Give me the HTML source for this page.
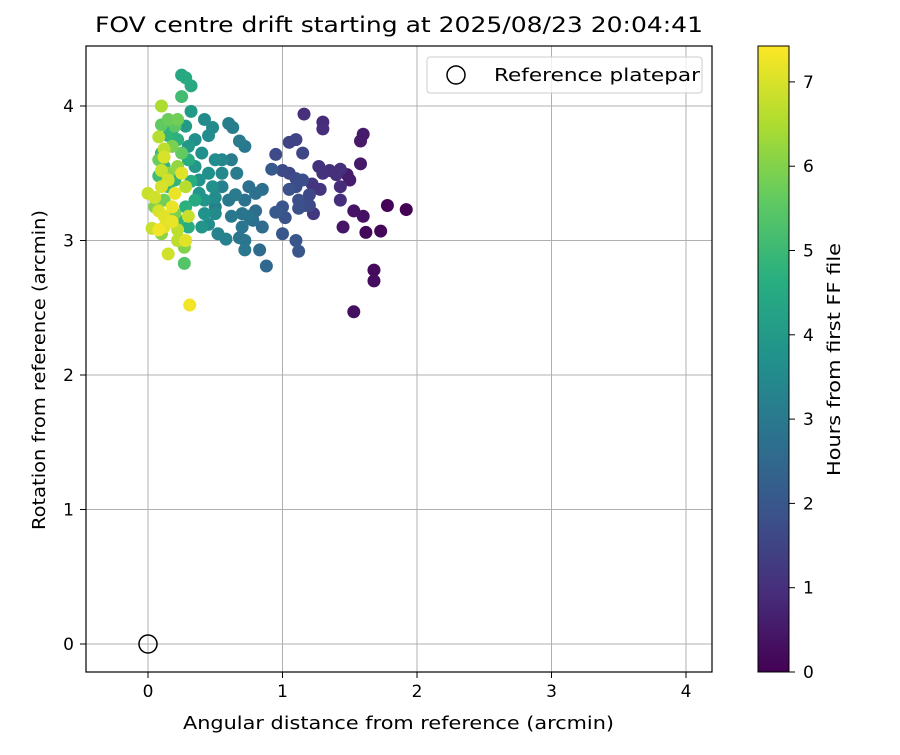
<!DOCTYPE html>
<html><head><meta charset="utf-8"><style>
html,body{margin:0;padding:0;background:#fff}
svg text{font-family:"DejaVu Sans","Liberation Sans",sans-serif;fill:#000}
</style></head><body>
<svg id="chart" width="900" height="750" viewBox="0 0 900 750" xmlns="http://www.w3.org/2000/svg">
<defs>
<linearGradient id="vir" x1="0" y1="1" x2="0" y2="0">
<stop offset="0" stop-color="#440154"/><stop offset="0.125" stop-color="#472d7b"/><stop offset="0.25" stop-color="#3b528b"/><stop offset="0.375" stop-color="#2c728e"/><stop offset="0.5" stop-color="#21918c"/><stop offset="0.625" stop-color="#28ae80"/><stop offset="0.75" stop-color="#5ec962"/><stop offset="0.875" stop-color="#addc30"/><stop offset="1" stop-color="#fde725"/>
</linearGradient>
<clipPath id="clip"><rect x="86" y="46" width="626" height="626"/></clipPath>
</defs>
<rect x="0" y="0" width="900" height="750" fill="#fff"/>
<text x="95" y="32" font-size="21" textLength="608" lengthAdjust="spacingAndGlyphs">FOV centre drift starting at 2025/08/23 20:04:41</text>
<g id="grid"></g>
<g id="points" clip-path="url(#clip)"></g>
<rect x="86" y="46" width="626" height="626" fill="none" stroke="#000" stroke-width="1.2"/>
<g id="ticks"></g>
<text x="183" y="729" font-size="18" textLength="431" lengthAdjust="spacingAndGlyphs">Angular distance from reference (arcmin)</text>
<text x="0" y="0" font-size="18" textLength="320" lengthAdjust="spacingAndGlyphs" transform="translate(45,530) rotate(-90)">Rotation from reference (arcmin)</text>
<g>
<rect x="427" y="57" width="275" height="36" rx="3" fill="#fff" fill-opacity="0.8" stroke="#ccc"/>
<circle cx="456" cy="75" r="9" fill="none" stroke="#000" stroke-width="1.5"/>
<text x="494" y="81" font-size="18" textLength="206" lengthAdjust="spacingAndGlyphs">Reference platepar</text>
</g>
<rect x="758" y="46" width="31" height="626" fill="url(#vir)" stroke="#000" stroke-width="1"/>
<g id="cbticks"></g>
<text x="0" y="0" font-size="18" textLength="233" lengthAdjust="spacingAndGlyphs" transform="translate(840,476) rotate(-90)">Hours from first FF file</text>
</svg>
<script>
const xTicks=[0,1,2,3,4];
const yTicks=[0,1,2,3,4];
const cTicks=[0,1,2,3,4,5,6,7];
const xs=[1.92,1.78,1.73,1.62,1.68,1.68,1.53,1.60,1.53,1.45,1.58,1.60,1.58,1.48,1.50,
1.16,1.30,1.30,1.43,1.35,1.27,1.28,1.22,1.43,1.43,1.23,1.40,1.30,
1.05,1.10,0.95,1.15,1.05,1.00,1.10,1.15,1.20,1.12,1.05,1.02,1.12,1.00,1.10,1.12,0.95,0.92,1.00,1.17,1.10,1.20,
0.88,0.83,0.85,0.80,0.85,0.75,0.72,0.70,0.72,0.72,0.62,0.60,0.65,0.66,0.62,0.60,0.63,0.72,0.68,0.55,0.50,0.58,0.68,0.52,0.78,0.80,0.70,0.75,
0.48,0.42,0.45,0.35,0.40,0.50,0.38,0.45,0.55,0.50,0.45,0.42,0.40,0.35,0.30,0.55,0.48,0.50,0.32,0.28,0.38,0.42,
0.25,0.28,0.32,0.25,0.27,0.18,0.22,0.15,0.30,0.25,0.20,0.12,0.10,0.28,0.30,0.22,0.15,0.35,0.32,0.08,
0.20,0.10,0.15,0.22,0.18,0.25,0.08,0.12,0.20,0.05,0.10,0.25,0.27,0.15,0.22,
0.10,0.08,0.12,0.10,0.15,0.12,0.25,0.28,0.20,0.00,0.05,0.08,0.12,0.18,0.22,0.08,0.03,0.15,0.28,0.30,0.31,0.18,0.10,0.12,0.22];
const ys=[3.23,3.26,3.07,3.06,2.78,2.70,2.47,3.18,3.22,3.10,3.57,3.79,3.74,3.49,3.45,
3.94,3.88,3.83,3.53,3.52,3.55,3.38,3.42,3.40,3.30,3.20,3.49,3.50,
3.73,3.75,3.64,3.65,3.50,3.52,3.46,3.45,3.34,3.30,3.38,3.17,3.24,3.25,3.00,2.92,3.21,3.53,3.05,3.26,3.40,3.26,
2.81,2.93,3.10,3.22,3.38,3.40,3.30,3.20,3.00,2.93,3.18,3.30,3.34,3.50,3.60,3.87,3.84,3.70,3.74,3.40,3.25,3.01,3.02,3.05,3.15,3.35,3.10,3.18,
3.84,3.90,3.78,3.75,3.65,3.60,3.45,3.50,3.60,3.20,3.12,3.30,3.10,3.55,3.70,3.50,3.40,3.32,3.96,3.85,3.35,3.20,
4.23,4.21,4.15,4.07,2.83,3.82,3.75,3.78,3.60,3.50,3.45,3.55,3.65,3.25,3.10,3.15,3.40,3.30,3.44,3.48,
3.85,3.86,3.90,3.90,3.70,3.65,3.60,3.30,3.20,3.25,3.05,3.00,2.95,3.50,3.55,
4.00,3.77,3.68,3.52,3.45,3.62,3.50,3.40,3.35,3.35,3.32,3.22,3.18,3.14,3.08,3.08,3.09,2.90,3.00,3.18,2.52,3.25,3.40,3.10,3.00];
const hours=[0.0,0.05,0.1,0.15,0.2,0.25,0.3,0.35,0.4,0.45,0.5,0.55,0.5,0.6,0.6,
1.0,0.9,0.95,1.0,1.0,1.05,1.1,1.1,0.9,0.95,1.2,1.0,1.05,
1.5,1.5,1.7,1.55,1.6,1.65,1.7,1.75,1.6,1.8,1.85,1.9,1.8,1.95,2.0,2.0,2.05,2.1,2.0,1.7,1.75,1.65,
2.5,2.55,2.6,2.65,2.7,2.75,2.8,2.85,2.9,2.95,3.0,3.0,3.05,3.1,3.1,3.15,3.15,3.0,3.05,3.2,3.25,3.2,2.9,3.3,2.7,2.75,2.9,2.85,
3.5,3.55,3.6,3.65,3.7,3.6,3.75,3.7,3.4,3.5,3.6,3.8,3.85,3.9,3.95,3.45,3.7,3.6,4.0,4.0,3.8,3.75,
4.4,4.5,4.45,5.1,5.4,4.6,4.7,4.8,4.6,4.7,4.8,4.9,5.0,4.7,4.6,4.8,5.0,4.5,4.6,5.1,
5.5,5.6,5.7,5.8,5.9,5.6,5.7,5.8,5.9,6.0,6.1,6.2,6.0,6.1,6.2,
6.5,6.6,6.7,6.8,6.9,7.0,7.1,6.6,7.2,6.8,6.9,7.0,7.1,7.2,6.7,7.3,6.8,6.9,7.1,6.8,7.3,7.2,7.0,7.1,6.7];
const X0=148,XS=134.5,Y0=644,YS=134.5,CB0=672,CS=84.3,CMAX=7.43;
const sx=v=>X0+v*XS, sy=v=>Y0-v*YS, sc=v=>CB0-v*CS;
const VIR=[[68,1,84],[71,45,123],[59,82,139],[44,114,142],[33,145,140],[40,174,128],[94,201,98],[173,220,48],[253,231,37]];
function viridis(t){t=Math.max(0,Math.min(1,t));const p=t*8,i=Math.min(7,Math.floor(p)),f=p-i;const a=VIR[i],b=VIR[i+1];
return 'rgb('+a.map((c,k)=>Math.round(c+(b[k]-c)*f)).join(',')+')';}
const NS='http://www.w3.org/2000/svg';
function mk(tag,attrs,parent){const e=document.createElementNS(NS,tag);for(const k in attrs)e.setAttribute(k,attrs[k]);parent.appendChild(e);return e;}
const grid=document.getElementById('grid'),ticks=document.getElementById('ticks'),pts=document.getElementById('points'),cbt=document.getElementById('cbticks');
xTicks.forEach(v=>{const x=sx(v);
const g=mk('line',{x1:x,x2:x,y1:46,y2:672,stroke:'#b0b0b0','stroke-width':1},grid);


mk('line',{x1:x,x2:x,y1:672,y2:678,stroke:'#000'},ticks);
const t=mk('text',{x:x,y:697,'font-size':17,'text-anchor':'middle'},ticks);t.textContent=v;

});
yTicks.forEach(v=>{const y=sy(v);
const g=mk('line',{x1:86,x2:712,y1:y,y2:y,stroke:'#b0b0b0','stroke-width':1},grid);


mk('line',{x1:80,x2:86,y1:y,y2:y,stroke:'#000'},ticks);
const t=mk('text',{x:74,y:y+6,'font-size':17,'text-anchor':'end'},ticks);t.textContent=v;

});
cTicks.forEach(v=>{const y=sc(v);
mk('line',{x1:789,x2:795,y1:y,y2:y,stroke:'#000'},cbt);
const t=mk('text',{x:803,y:y+6,'font-size':17},cbt);t.textContent=v;

});
const idx=hours.map((h,i)=>i).sort((a,b)=>hours[a]-hours[b]);
idx.forEach(i=>{const c=mk('circle',{cx:sx(xs[i]),cy:sy(ys[i]),r:6.5,fill:viridis(hours[i]/CMAX)},pts);

});
const ref=mk('circle',{cx:sx(0),cy:sy(0),r:9,fill:'none',stroke:'#000','stroke-width':1.5},pts);


</script>
</body></html>
